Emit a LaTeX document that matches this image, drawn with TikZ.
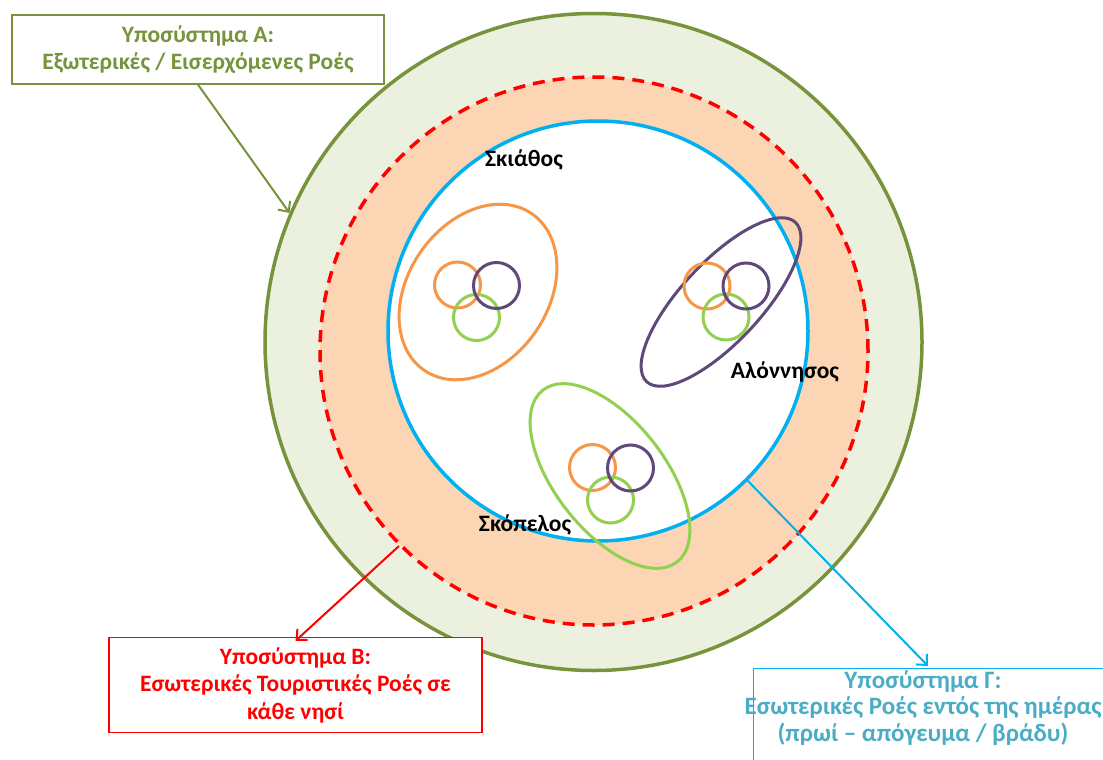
\documentclass[tikz,border=0pt]{standalone}
\usepackage{fontspec}
\setmainfont{Carlito}[BoldFont={Carlito Bold}]
\usetikzlibrary{arrows.meta}
\definecolor{gborder}{HTML}{77933C}
\definecolor{gfill}{HTML}{EBF1DE}
\definecolor{peach}{HTML}{FCD5B5}
\definecolor{cblue}{HTML}{00B0F0}
\definecolor{corange}{HTML}{F79646}
\definecolor{cpurple}{HTML}{5F497A}
\definecolor{cgreen}{HTML}{92D050}
\definecolor{ctext}{HTML}{4BACC6}
\tikzset{
  ring/.style={circle, inner sep=0pt, line width=3.5pt},
  small/.style={circle, draw, inner sep=0pt, minimum size=46pt, line width=3pt},
  island/.style={line width=3pt},
  islandlabel/.style={font=\bfseries\fontsize{23.5}{27}\selectfont, text=black, inner sep=0pt},
  infobox/.style={draw, line width=1.3pt, inner sep=0pt, align=center, font=\bfseries\fontsize{23.5}{27.5}\selectfont},
  pointer/.style={line width=2pt, -{Straight Barb[length=8pt,width=15pt]}},
}
\begin{document}
\begin{tikzpicture}[x=1pt,y=-1pt]
\clip (0,0) rectangle (1103,760);
\fill[white] (0,0) rectangle (1103,760);
% rings
\node[ring, draw=gborder, fill=gfill, minimum size=657pt] (outer) at (593.5,342) {};
\node[ring, draw=red, line width=3.5pt, dash pattern=on 12pt off 8pt, fill=peach, minimum size=548pt] (dash) at (594,351) {};
\node[ring, draw=cblue, fill=white, minimum size=420pt] (inner) at (598,331) {};
% Skiathos
\draw[island, corange, rotate around={55.5:(478,292)}] (478,292) ellipse [x radius=95, y radius=70];
\node[small, draw=corange] (s1) at (457.5,285) {};
\node[small, draw=cgreen] (s3) at (476.5,317.5) {};
\node[small, draw=cpurple] (s2) at (496.5,285.5) {};
% Alonnisos
\draw[island, cpurple, rotate around={47:(721,302)}] (721,302) ellipse [x radius=109, y radius=40];
\node[small, draw=corange] (a1) at (707,286) {};
\node[small, draw=cgreen] (a3) at (726,317) {};
\node[small, draw=cpurple] (a2) at (746,286) {};
% Skopelos
\draw[island, cgreen, rotate around={-52:(610,476)}] (610,476) ellipse [x radius=109, y radius=55];
\node[small, draw=corange] (k1) at (592.5,467.5) {};
\node[small, draw=cgreen] (k3) at (610.5,500) {};
\node[small, draw=cpurple] (k2) at (630.5,468) {};
% labels
\node[islandlabel] (lski) at (524,160) {Σκιάθος};
\node[islandlabel] (lalo) at (785,372) {Αλόννησος};
\node[islandlabel] (lsko) at (525,525) {Σκόπελος};
% boxes
\node[infobox, draw=gborder, text=gborder, fill=white, minimum width=372pt, minimum height=69pt] (A) at (198,49.5)
  {Υποσύστημα Α:\\Εξωτερικές / Εισερχόμενες Ροές};
\node[infobox, draw=red, text=red, fill=white, minimum width=373pt, minimum height=95pt] (B) at (295.5,685)
  {Υποσύστημα Β:\\Εσωτερικές Τουριστικές Ροές σε\\κάθε νησί};
\node[infobox, draw=cblue, fill=white, minimum width=370pt, minimum height=110pt, anchor=north west] (C) at (753,668) {};
\node[font=\bfseries\fontsize{25}{26.5}\selectfont, text=ctext, align=center, inner sep=0pt] (Ct) at (923,708)
  {Υποσύστημα Γ:\\Εσωτερικές Ροές εντός της ημέρας\\(πρωί – απόγευμα / βράδυ)};
\coordinate (Ctip) at (928,666);
% pointers
\draw[pointer, gborder] (A.south) -- (outer.157);
\draw[pointer, red] (dash.-135) -- ([yshift=-4pt]B.north);
\draw[pointer, cblue] (inner.-45.6) -- (Ctip);
\end{tikzpicture}
\end{document}
